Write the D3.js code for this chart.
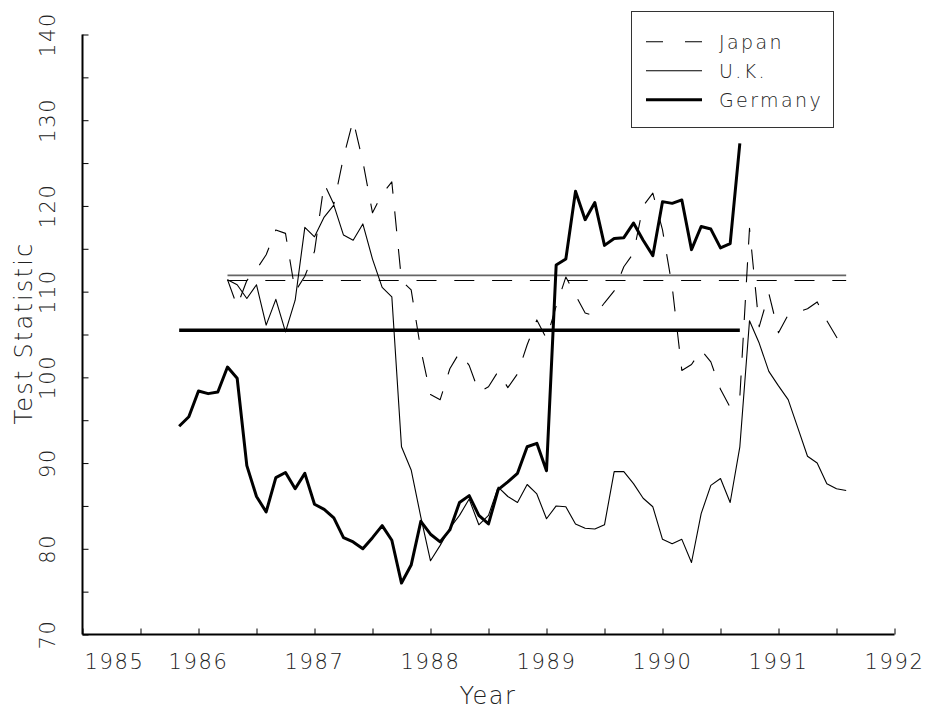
<!DOCTYPE html>
<html><head><meta charset="utf-8">
<script src="https://cdn.jsdelivr.net/npm/d3@7"></script>
<style>
body{margin:0;background:#fff}
svg{display:block}
text{font-family:"DejaVu Sans","Liberation Sans",sans-serif;font-weight:200;fill:#222}
</style>
</head><body>
<svg id="chart" width="928" height="717"></svg>
<script>
// ---- data ----
const yearTicks = [1985, 1986, 1987, 1988, 1989, 1990, 1991, 1992];
const yTicks = [70, 80, 90, 100, 110, 120, 130, 140];

// monthly series (first month given as [year, month])
const japanStart = [1986, 4];
const japan = [
  111.4, 108.3, 111.3, 112.6, 114.3, 117.2, 116.8, 110.0, 111.8,
  114.7, 122.6, 120.2, 125.7, 130.0, 125.2, 119.2, 121.4, 122.8, 111.3, 110.2, 103.2,
  98.0, 97.4, 101.0, 102.9, 101.4, 98.3, 98.9, 100.7, 98.8, 100.4, 103.8, 106.7,
  104.5, 108.3, 111.7, 109.6, 107.5, 107.2, 108.7, 110.1, 112.9, 114.5, 120.0, 121.5,
  117.2, 110.6, 100.8, 101.5, 103.2, 101.8, 98.6, 96.5, 97.7, 117.4, 105.9, 109.8,
  105.2, 107.3, 107.6, 108.0, 108.8, 106.6, 104.7, 102.8
];
const ukStart = [1986, 4];
const uk = [
  111.4, 110.8, 109.2, 110.8, 106.1, 109.1, 105.3, 109.0, 117.5,
  116.4, 118.7, 120.1, 116.6, 116.0, 117.9, 113.8, 110.5, 109.4, 91.9, 89.2, 83.7,
  78.6, 80.4, 82.4, 83.9, 85.8, 82.8, 83.9, 87.2, 86.1, 85.4, 87.5, 86.4,
  83.5, 85.0, 84.9, 82.9, 82.4, 82.3, 82.8, 89.0, 89.0, 87.6, 85.9, 84.9,
  81.1, 80.6, 81.1, 78.4, 84.1, 87.4, 88.2, 85.4, 91.9, 106.6, 104.0, 100.7,
  99.0, 97.4, 94.1, 90.8, 90.0, 87.6, 87.0, 86.8
];
const germanyStart = [1985, 11];
const germany = [
  94.3, 95.4,
  98.4, 98.1, 98.3, 101.2, 99.9, 89.7, 86.1, 84.3, 88.3, 88.9, 87.0, 88.8,
  85.2, 84.6, 83.6, 81.3, 80.8, 80.0, 81.3, 82.7, 81.0, 76.0, 78.1, 83.2,
  81.7, 80.8, 82.2, 85.4, 86.2, 83.9, 82.9, 86.9, 87.8, 88.8, 91.9, 92.3,
  89.1, 113.1, 113.8, 121.7, 118.4, 120.4, 115.4, 116.2, 116.3, 118.0, 116.0, 114.2,
  120.5, 120.3, 120.7, 114.9, 117.6, 117.3, 115.1, 115.6, 127.3
];
// horizontal reference levels
const japanLevel = 111.3;
const ukLevel = 111.9;
const germanyLevel = 105.5;

const seriesNames = ["Japan", "U.K.", "Germany"];

// ---- helpers ----
function toPoints(start, values) {
  return values.map((v, i) => ({ t: start[0] + (start[1] - 1 + i) / 12, v }));
}

const svg = d3.select("#chart");
const x = d3.scaleLinear().domain([1985, 1992]).range([82.5, 894.5]);
const y = d3.scaleLinear().domain([70, 140]).range([634.5, 34.5]);

const line = d3.line().x(d => x(d.t)).y(d => y(d.v));

const series = [
  { name: seriesNames[0], pts: toPoints(japanStart, japan), level: japanLevel, width: 1.1, dash: "20,17.8", legendDash: "17,22" },
  { name: seriesNames[1], pts: toPoints(ukStart, uk), level: ukLevel, width: 1.1, dash: null, legendDash: null },
  { name: seriesNames[2], pts: toPoints(germanyStart, germany), level: germanyLevel, width: 3, dash: null, legendDash: null }
];

// ---- axes ----
const xAxis = d3.axisBottom(x)
  .tickValues(d3.range(1985, 1992.01, 0.5))
  .tickSize(-6)
  .tickFormat(() => "");
const gx = svg.append("g").attr("transform", "translate(0,634.5)").call(xAxis);
gx.select(".domain").attr("stroke", "#000").attr("stroke-width", 2).attr("d", "M82.5,0H894.5");
gx.selectAll(".tick line").attr("stroke", "#000").attr("stroke-width", 1);

svg.append("g").selectAll("text").data(yearTicks).join("text")
  .attr("x", d => d === 1985 ? x(d) + 2 : x(d))
  .attr("y", 669)
  .attr("text-anchor", d => d === 1985 ? "start" : "middle")
  .attr("font-size", 21)
  .attr("letter-spacing", 1.6)
  .text(d => d);

const yAxis = d3.axisLeft(y)
  .tickValues(d3.range(70, 140.01, 5))
  .tickSize(-6)
  .tickFormat(() => "");
const gy = svg.append("g").attr("transform", "translate(82.5,0)").call(yAxis);
gy.select(".domain").attr("stroke", "#000").attr("stroke-width", 2).attr("d", "M0,634.5V34.5");
gy.selectAll(".tick line").attr("stroke", "#000").attr("stroke-width", 1);

svg.append("g").selectAll("text").data(yTicks).join("text")
  .attr("transform", d => `translate(55,${y(d)}) rotate(-90)`)
  .attr("text-anchor", "middle")
  .attr("font-size", 21)
  .attr("letter-spacing", 1.6)
  .text(d => d);

svg.append("text")
  .attr("transform", "translate(32,333) rotate(-90)")
  .attr("text-anchor", "middle")
  .attr("font-size", 24)
  .attr("letter-spacing", 2.2)
  .text("Test Statistic");

svg.append("text")
  .attr("x", 488).attr("y", 704)
  .attr("text-anchor", "middle")
  .attr("font-size", 24)
  .attr("letter-spacing", 1.5)
  .text("Year");

// ---- reference levels ----
series.forEach(s => {
  const t0 = s.pts[0].t, t1 = s.pts[s.pts.length - 1].t;
  svg.append("line")
    .attr("x1", x(t0)).attr("x2", x(t1))
    .attr("y1", y(s.level)).attr("y2", y(s.level))
    .attr("stroke", s.name === "U.K." ? "#666" : "#000")
    .attr("stroke-width", s.name === "Germany" ? 3.5 : (s.name === "U.K." ? 1.6 : 1.1))
    .attr("stroke-dasharray", s.dash);
});

// ---- series ----
series.forEach(s => {
  svg.append("path")
    .datum(s.pts)
    .attr("fill", "none")
    .attr("stroke", "#000")
    .attr("stroke-width", s.width)
    .attr("stroke-linejoin", "round")
    .attr("stroke-dasharray", s.dash)
    .attr("d", line);
});

// ---- legend ----
svg.append("rect")
  .attr("x", 631.5).attr("y", 11.5).attr("width", 202).attr("height", 116)
  .attr("fill", "#fff").attr("stroke", "#333").attr("stroke-width", 1);
const lg = svg.append("g").selectAll("g").data(series).join("g")
  .attr("transform", (d, i) => `translate(0,${41.7 + i * 29})`);
lg.append("line")
  .attr("x1", 646).attr("x2", 702).attr("y1", 0).attr("y2", 0)
  .attr("stroke", "#000")
  .attr("stroke-width", d => d.width)
  .attr("stroke-dasharray", d => d.legendDash);
lg.append("text")
  .attr("x", 719).attr("y", 7)
  .attr("font-size", 19)
  .attr("letter-spacing", 2.4)
  .text(d => d.name);
</script>
</body></html>
